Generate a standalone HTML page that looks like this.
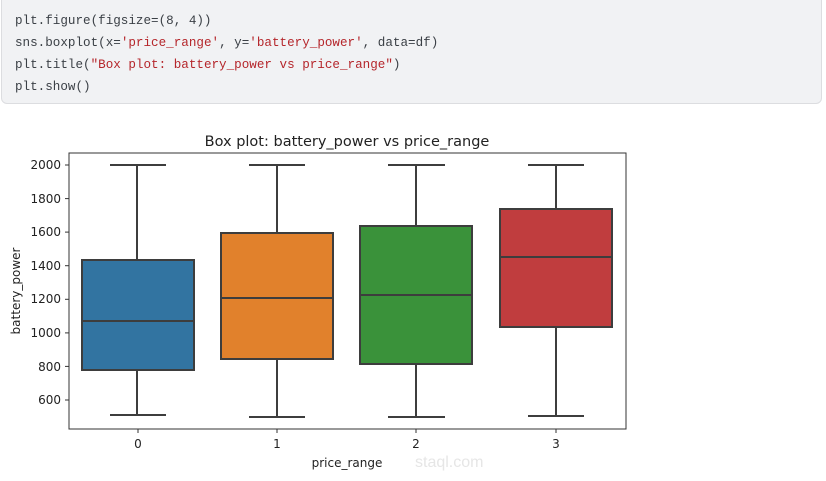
<!DOCTYPE html>
<html><head><meta charset="utf-8"><style>
body{margin:0;width:826px;height:481px;background:#fff;overflow:hidden;position:relative;font-family:"Liberation Sans",sans-serif}
.code{position:absolute;left:1px;top:-6px;width:821px;height:110px;background:#f1f2f4;border:1px solid #dcdde0;border-radius:6px;box-sizing:border-box}
.code pre{margin:0;position:absolute;left:13px;top:15px;font-family:"Liberation Mono","DejaVu Sans Mono",monospace;font-size:12.6px;line-height:22px;color:#3a3f45}
.s{color:#b5262b}
svg{position:absolute;left:0;top:0}
</style></head><body>
<div class="code"><pre>plt.figure(figsize=(8, 4))
sns.boxplot(x=<span class="s">'price_range'</span>, y=<span class="s">'battery_power'</span>, data=df)
plt.title(<span class="s">"Box plot: battery_power vs price_range"</span>)
plt.show()</pre></div>
<svg width="826" height="481" font-family="DejaVu Sans, Liberation Sans, sans-serif">
<text x="347" y="146" font-size="14.5" text-anchor="middle" fill="#222">Box plot: battery_power vs price_range</text>
<g stroke="#3d3d3d" stroke-width="2" fill="none">
<line x1="137" y1="165" x2="137" y2="260"/><line x1="137" y1="370" x2="137" y2="415"/>
<line x1="110" y1="165" x2="166" y2="165"/><line x1="110" y1="415" x2="166" y2="415"/>
<rect x="82" y="260" width="112" height="110" fill="#3274a1"/><line x1="82" y1="321" x2="194" y2="321"/>
<line x1="277" y1="165" x2="277" y2="233"/><line x1="277" y1="359" x2="277" y2="417"/>
<line x1="249" y1="165" x2="305" y2="165"/><line x1="249" y1="417" x2="305" y2="417"/>
<rect x="221" y="233" width="112" height="126" fill="#e1812c"/><line x1="221" y1="298" x2="333" y2="298"/>
<line x1="416" y1="165" x2="416" y2="226"/><line x1="416" y1="364" x2="416" y2="417"/>
<line x1="388" y1="165" x2="445" y2="165"/><line x1="388" y1="417" x2="445" y2="417"/>
<rect x="360" y="226" width="112" height="138" fill="#3a923a"/><line x1="360" y1="295" x2="472" y2="295"/>
<line x1="556" y1="165" x2="556" y2="209"/><line x1="556" y1="327" x2="556" y2="416"/>
<line x1="528" y1="165" x2="584" y2="165"/><line x1="528" y1="416" x2="584" y2="416"/>
<rect x="500" y="209" width="112" height="118" fill="#c03d3e"/><line x1="500" y1="257" x2="612" y2="257"/>
</g>
<rect x="69" y="153" width="557" height="276" fill="none" stroke="#333" stroke-width="1"/>
<g stroke="#333" stroke-width="1">
<line x1="65" y1="165" x2="69" y2="165"/><line x1="65" y1="198.6" x2="69" y2="198.6"/><line x1="65" y1="232.1" x2="69" y2="232.1"/><line x1="65" y1="265.7" x2="69" y2="265.7"/><line x1="65" y1="299.3" x2="69" y2="299.3"/><line x1="65" y1="332.9" x2="69" y2="332.9"/><line x1="65" y1="366.4" x2="69" y2="366.4"/><line x1="65" y1="400" x2="69" y2="400"/>
<line x1="138" y1="429" x2="138" y2="433"/><line x1="277" y1="429" x2="277" y2="433"/><line x1="416" y1="429" x2="416" y2="433"/><line x1="556" y1="429" x2="556" y2="433"/>
</g>
<g font-size="12" fill="#222" text-anchor="end">
<text x="61" y="169">2000</text><text x="61" y="203">1800</text><text x="61" y="236">1600</text><text x="61" y="270">1400</text><text x="61" y="303">1200</text><text x="61" y="337">1000</text><text x="61" y="371">800</text><text x="61" y="404">600</text>
</g>
<g font-size="12" fill="#222" text-anchor="middle">
<text x="138" y="448">0</text><text x="277" y="448">1</text><text x="416" y="448">2</text><text x="556" y="448">3</text>
<text x="347" y="467">price_range</text>
<text transform="translate(20,291) rotate(-90)">battery_power</text>
</g>
<text x="415" y="467" font-size="16" fill="#e6e6e6" font-family="Liberation Sans,sans-serif">staql.com</text>
</svg>
</body></html>
